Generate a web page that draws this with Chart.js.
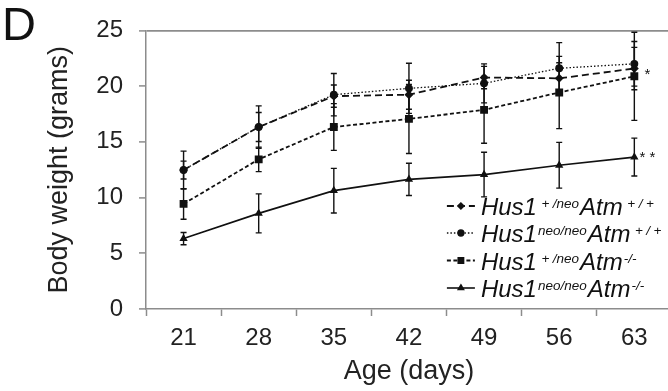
<!DOCTYPE html>
<html lang="en">
<head>
    <meta charset="UTF-8">
    <title>Body weight by age</title>
    <script src="https://cdn.jsdelivr.net/npm/chart.js"></script>
    <style>
        html, body { margin: 0; padding: 0; background: #fff; overflow: hidden; }
        #wrap { position: relative; width: 668px; height: 391px; overflow: hidden; }
        #weightChart { display: block; }
        #panel { position: absolute; left: 2px; top: 0px; font: 47px 'Liberation Sans', Arial, sans-serif; line-height: 1; color: #111; }
    </style>
</head>
<body>
<div id="wrap">
    <!-- plot frame runs a little past the right edge of the figure, so the canvas is cropped -->
    <canvas id="weightChart" width="678" height="391"></canvas>
    <div id="panel">D</div>
</div>

<script>
// ages in days (x categories)
const ages = ['21', '28', '35', '42', '49', '56', '63'];

// mean body weight (grams) and error (+/-) per genotype
const hetAtmWt = [12.47, 16.33, 19.1, 19.23, 20.77, 20.7, 21.58];
const hetAtmWtErr = [0.8, 1.3, 1.0, 1.3, 1.0, 1.4, 1.9];

const neoAtmWt = [12.47, 16.33, 19.23, 19.8, 20.25, 21.6, 22.0];
const neoAtmWtErr = [1.7, 1.9, 1.9, 2.25, 1.75, 2.3, 2.0];

const hetAtmKo = [9.43, 13.43, 16.33, 17.06, 17.87, 19.43, 20.88];
const hetAtmKoErr = [1.37, 1.1, 2.1, 3.1, 3.0, 3.24, 3.95];

const neoAtmKo = [6.32, 8.58, 10.62, 11.63, 12.06, 12.9, 13.63];
const neoAtmKoErr = [0.55, 1.75, 2.0, 1.45, 2.0, 2.05, 1.7];

// y ticks
const yTicks = [0, 5, 10, 15, 20, 25];

// legend text: [gene, superscript, gene, superscript]
const legendText = [
    ['Hus1', '+/neo', 'Atm', '+/+'],
    ['Hus1', 'neo/neo', 'Atm', '+/+'],
    ['Hus1', '+/neo', 'Atm', '-/-'],
    ['Hus1', 'neo/neo', 'Atm', '-/-']
];

// significance marks next to the last age
const sigMarks = [
    { text: '*', value: 21.35 },
    { text: '* *', value: 13.95 }
];

const errors = [hetAtmWtErr, neoAtmWtErr, hetAtmKoErr, neoAtmKoErr];
const ink = '#111';
const axisGrey = '#8c8c8c';
const FONT = "'Liberation Sans', Arial, sans-serif";

// vertical error bars with caps
const errorBars = {
    id: 'errorBars',
    afterDatasetsDraw(chart) {
        const { ctx } = chart;
        const y = chart.scales.y;
        ctx.save();
        ctx.strokeStyle = ink;
        ctx.lineWidth = 1.4;
        ctx.setLineDash([]);
        chart.data.datasets.forEach((ds, di) => {
            const meta = chart.getDatasetMeta(di);
            meta.data.forEach((pt, i) => {
                const e = errors[di][i];
                const top = y.getPixelForValue(ds.data[i] + e);
                const bot = y.getPixelForValue(ds.data[i] - e);
                ctx.beginPath();
                ctx.moveTo(pt.x, top); ctx.lineTo(pt.x, bot);
                ctx.moveTo(pt.x - 3, top); ctx.lineTo(pt.x + 3, top);
                ctx.moveTo(pt.x - 3, bot); ctx.lineTo(pt.x + 3, bot);
                ctx.stroke();
            });
        });
        ctx.restore();
    }
};

// superscript with the plus signs set a bit wide, as in the figure
function drawSup(ctx, text, x, y) {
    for (const ch of text) {
        const w = ctx.measureText(ch).width;
        const pad = ch === '+' ? 3.5 : 0;
        ctx.fillText(ch, x + pad, y);
        x += w + pad * 2;
    }
    return x;
}

// legend with superscripts, drawn inside the plot
const geneLegend = {
    id: 'geneLegend',
    afterDraw(chart) {
        const { ctx, chartArea } = chart;
        const sx = chartArea.right - 225;
        const tx = chartArea.right - 191;
        const baselines = [94, 67, 39.5, 12];
        const markR = [2.8, 3, 3.6, 3];
        ctx.save();
        chart.data.datasets.forEach((ds, i) => {
            const base = chartArea.bottom - baselines[i];
            const cy = base - 9;
            ctx.strokeStyle = ink;
            ctx.lineWidth = ds.borderWidth;
            ctx.setLineDash(ds.borderDash || []);
            ctx.beginPath();
            ctx.moveTo(sx, cy); ctx.lineTo(sx + 28, cy);
            ctx.stroke();
            ctx.setLineDash([]);
            ctx.fillStyle = ink;
            Chart.helpers.drawPoint(ctx, {
                pointStyle: ds.pointStyle, radius: markR[i], rotation: 0, borderWidth: 1
            }, sx + 14, cy);

            let x = tx;
            ctx.fillStyle = '#111';
            ctx.textBaseline = 'alphabetic';
            legendText[i].forEach((part, k) => {
                if (k % 2 === 1) {
                    ctx.font = 'italic 13.5px ' + FONT;
                    x = drawSup(ctx, part, x + 1, base - 7) + 1;
                } else {
                    ctx.font = 'italic 24px ' + FONT;
                    ctx.fillText(part, x, base);
                    x += ctx.measureText(part).width;
                }
            });
        });

        // significance marks
        const xs = chart.scales.x, ys = chart.scales.y;
        ctx.font = '15px ' + FONT;
        ctx.textAlign = 'center';
        sigMarks.forEach(m => {
            ctx.fillText(m.text, xs.getPixelForValue(ages.length - 1) + 13, ys.getPixelForValue(m.value) + 8);
        });
        ctx.restore();
    }
};

const ctx = document.getElementById('weightChart').getContext('2d');
new Chart(ctx, {
    type: 'line',
    data: {
        labels: ages,
        datasets: [{
            label: 'Hus1+/neo Atm+/+',
            data: hetAtmWt,
            borderColor: ink, backgroundColor: ink,
            borderWidth: 1.8, borderDash: [7, 4],
            pointStyle: 'rectRot', pointRadius: 3.2
        }, {
            label: 'Hus1neo/neo Atm+/+',
            data: neoAtmWt,
            borderColor: ink, backgroundColor: ink,
            borderWidth: 1.3, borderDash: [1.5, 2],
            pointStyle: 'circle', pointRadius: 3.3
        }, {
            label: 'Hus1+/neo Atm-/-',
            data: hetAtmKo,
            borderColor: ink, backgroundColor: ink,
            borderWidth: 1.8, borderDash: [4, 2.5],
            pointStyle: 'rect', pointRadius: 4.3
        }, {
            label: 'Hus1neo/neo Atm-/-',
            data: neoAtmKo,
            borderColor: ink, backgroundColor: ink,
            borderWidth: 1.6,
            pointStyle: 'triangle', pointRadius: 3.2
        }]
    },
    options: {
        responsive: false,
        animation: false,
        layout: { padding: { top: 22, right: 0, bottom: 0, left: 0 } },
        plugins: {
            legend: { display: false },
            tooltip: { enabled: false }
        },
        scales: {
            x: {
                type: 'category',
                offset: true,
                afterFit: s => { s.height = 82; },
                border: { color: axisGrey, width: 1.5 },
                grid: { offset: true, drawOnChartArea: false, tickLength: 7, tickColor: axisGrey, tickWidth: 1.5 },
                ticks: { color: '#222', font: { size: 24, family: FONT }, padding: 8, maxRotation: 0 },
                title: { display: true, text: 'Age (days)', color: '#222', font: { size: 27, family: FONT }, padding: { top: 0, bottom: 3 } }
            },
            y: {
                min: 0, max: 25,
                afterFit: s => { s.width = 146; },
                afterBuildTicks: s => { s.ticks = yTicks.map(v => ({ value: v })); },
                border: { color: axisGrey, width: 1.5 },
                grid: {
                    color: c => (c.tick && c.tick.value === 25 ? axisGrey : 'rgba(0,0,0,0)'),
                    lineWidth: 1.8,
                    tickLength: 7, tickColor: axisGrey, tickWidth: 1.5
                },
                ticks: { color: '#222', font: { size: 24, family: FONT }, padding: 16 },
                title: { display: true, text: 'Body weight (grams)', color: '#222', font: { size: 27, family: FONT }, padding: { top: 43, bottom: 0 } }
            }
        }
    },
    plugins: [errorBars, geneLegend]
});
</script>
</body>
</html>
